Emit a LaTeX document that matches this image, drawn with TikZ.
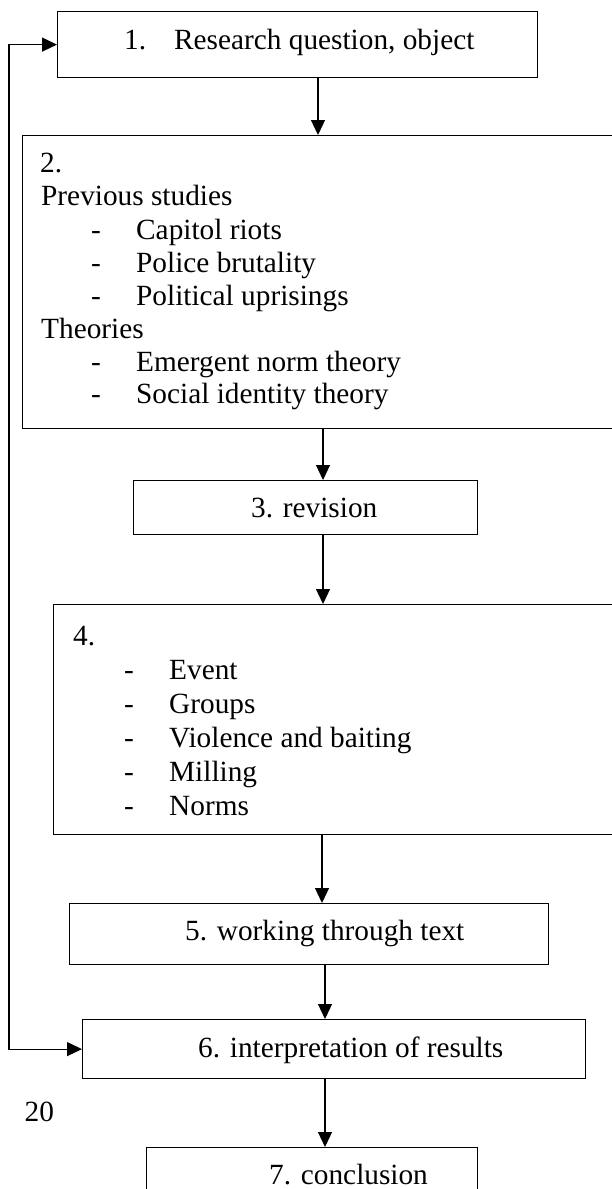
\documentclass[tikz,border=0pt]{standalone}
\usepackage{fontspec}
\setmainfont{Liberation Serif}
\usetikzlibrary{arrows.meta}
\tikzset{
  box/.style={draw=black, line width=1.2pt, rectangle, inner sep=0pt, anchor=north west},
  txt/.style={inner sep=0pt, anchor=base west, font=\fontsize{29.3}{33}\selectfont},
  tip/.style={Triangle[length=15pt,width=14pt]},
  conn/.style={draw=black, line width=1.2pt, -{Triangle[length=15pt,width=14pt]}},
  fback/.style={draw=black, line width=1.2pt, {Triangle[length=15pt,width=14pt]}-{Triangle[length=15pt,width=14pt]}}
}
\begin{document}
\begin{tikzpicture}[x=1pt,y=-1pt]
\clip (0,0) rectangle (612,1189);
\fill[white] (0,0) rectangle (612,1189);
% boxes
\node[box, minimum width=480pt, minimum height=66pt] (b1) at (57,11) {};
\node[box, minimum width=600pt, minimum height=293pt] (b2) at (22,135) {};
\node[box, minimum width=344pt, minimum height=54pt] (b3) at (133,480) {};
\node[box, minimum width=570pt, minimum height=230pt] (b4) at (53,604) {};
\node[box, minimum width=479pt, minimum height=61pt] (b5) at (69,903) {};
\node[box, minimum width=503pt, minimum height=59pt] (b6) at (82,1019) {};
\node[box, minimum width=331pt, minimum height=70pt] (b7) at (146,1147) {};
% texts
\node[txt] (t1) at (124,49) {1.\hspace{28pt}Research question, object};
\node[txt] (t2) at (40,172) {2.};
\node[txt] (t2a) at (41,205) {Previous studies};
\node[txt] (d2b) at (91,239) {-};
\node[txt] (t2b) at (136,239) {Capitol riots};
\node[txt] (d2c) at (91,272) {-};
\node[txt] (t2c) at (136,272) {Police brutality};
\node[txt] (d2d) at (91,305) {-};
\node[txt] (t2d) at (136,305) {Political uprisings};
\node[txt] (t2e) at (41,338) {Theories};
\node[txt] (d2f) at (91,371) {-};
\node[txt] (t2f) at (136,371) {Emergent norm theory};
\node[txt] (d2g) at (91,403) {-};
\node[txt] (t2g) at (136,403) {Social identity theory};
\node[txt] (t3) at (251,517) {3. revision};
\node[txt] (t4) at (73,645) {4.};
\node[txt] (d4a) at (124,679) {-};
\node[txt] (t4a) at (169,679) {Event};
\node[txt] (d4b) at (124,713) {-};
\node[txt] (t4b) at (169,713) {Groups};
\node[txt] (d4c) at (124,747) {-};
\node[txt] (t4c) at (169,747) {Violence and baiting};
\node[txt] (d4d) at (124,781) {-};
\node[txt] (t4d) at (169,781) {Milling};
\node[txt] (d4e) at (124,815) {-};
\node[txt] (t4e) at (169,815) {Norms};
\node[txt] (t5) at (185,940) {5. working through text};
\node[txt] (t6) at (198,1057) {6. interpretation of results};
\node[txt] (pg) at (24.5,1121) {20};
\node[txt] (t7) at (269,1184) {7. conclusion};
% connector x positions
\coordinate (xa) at (318,0);
\coordinate (xb) at (323,0);
\coordinate (xc) at (322,0);
\coordinate (xd) at (325,0);
\coordinate (fb) at (9,500);
% connectors
\draw[conn] (b1.south -| xa) -- (b2.north -| xa);
\draw[conn] (b2.south -| xb) -- (b3.north -| xb);
\draw[conn] (b3.south -| xb) -- (b4.north -| xb);
\draw[conn] (b4.south -| xc) -- (b5.north -| xc);
\draw[conn] (b5.south -| xd) -- (b6.north -| xd);
\draw[conn] (b6.south -| xd) -- (b7.north -| xd);
\draw[fback] (b6.west) -| (fb) |- (b1.west);
\end{tikzpicture}
\end{document}
